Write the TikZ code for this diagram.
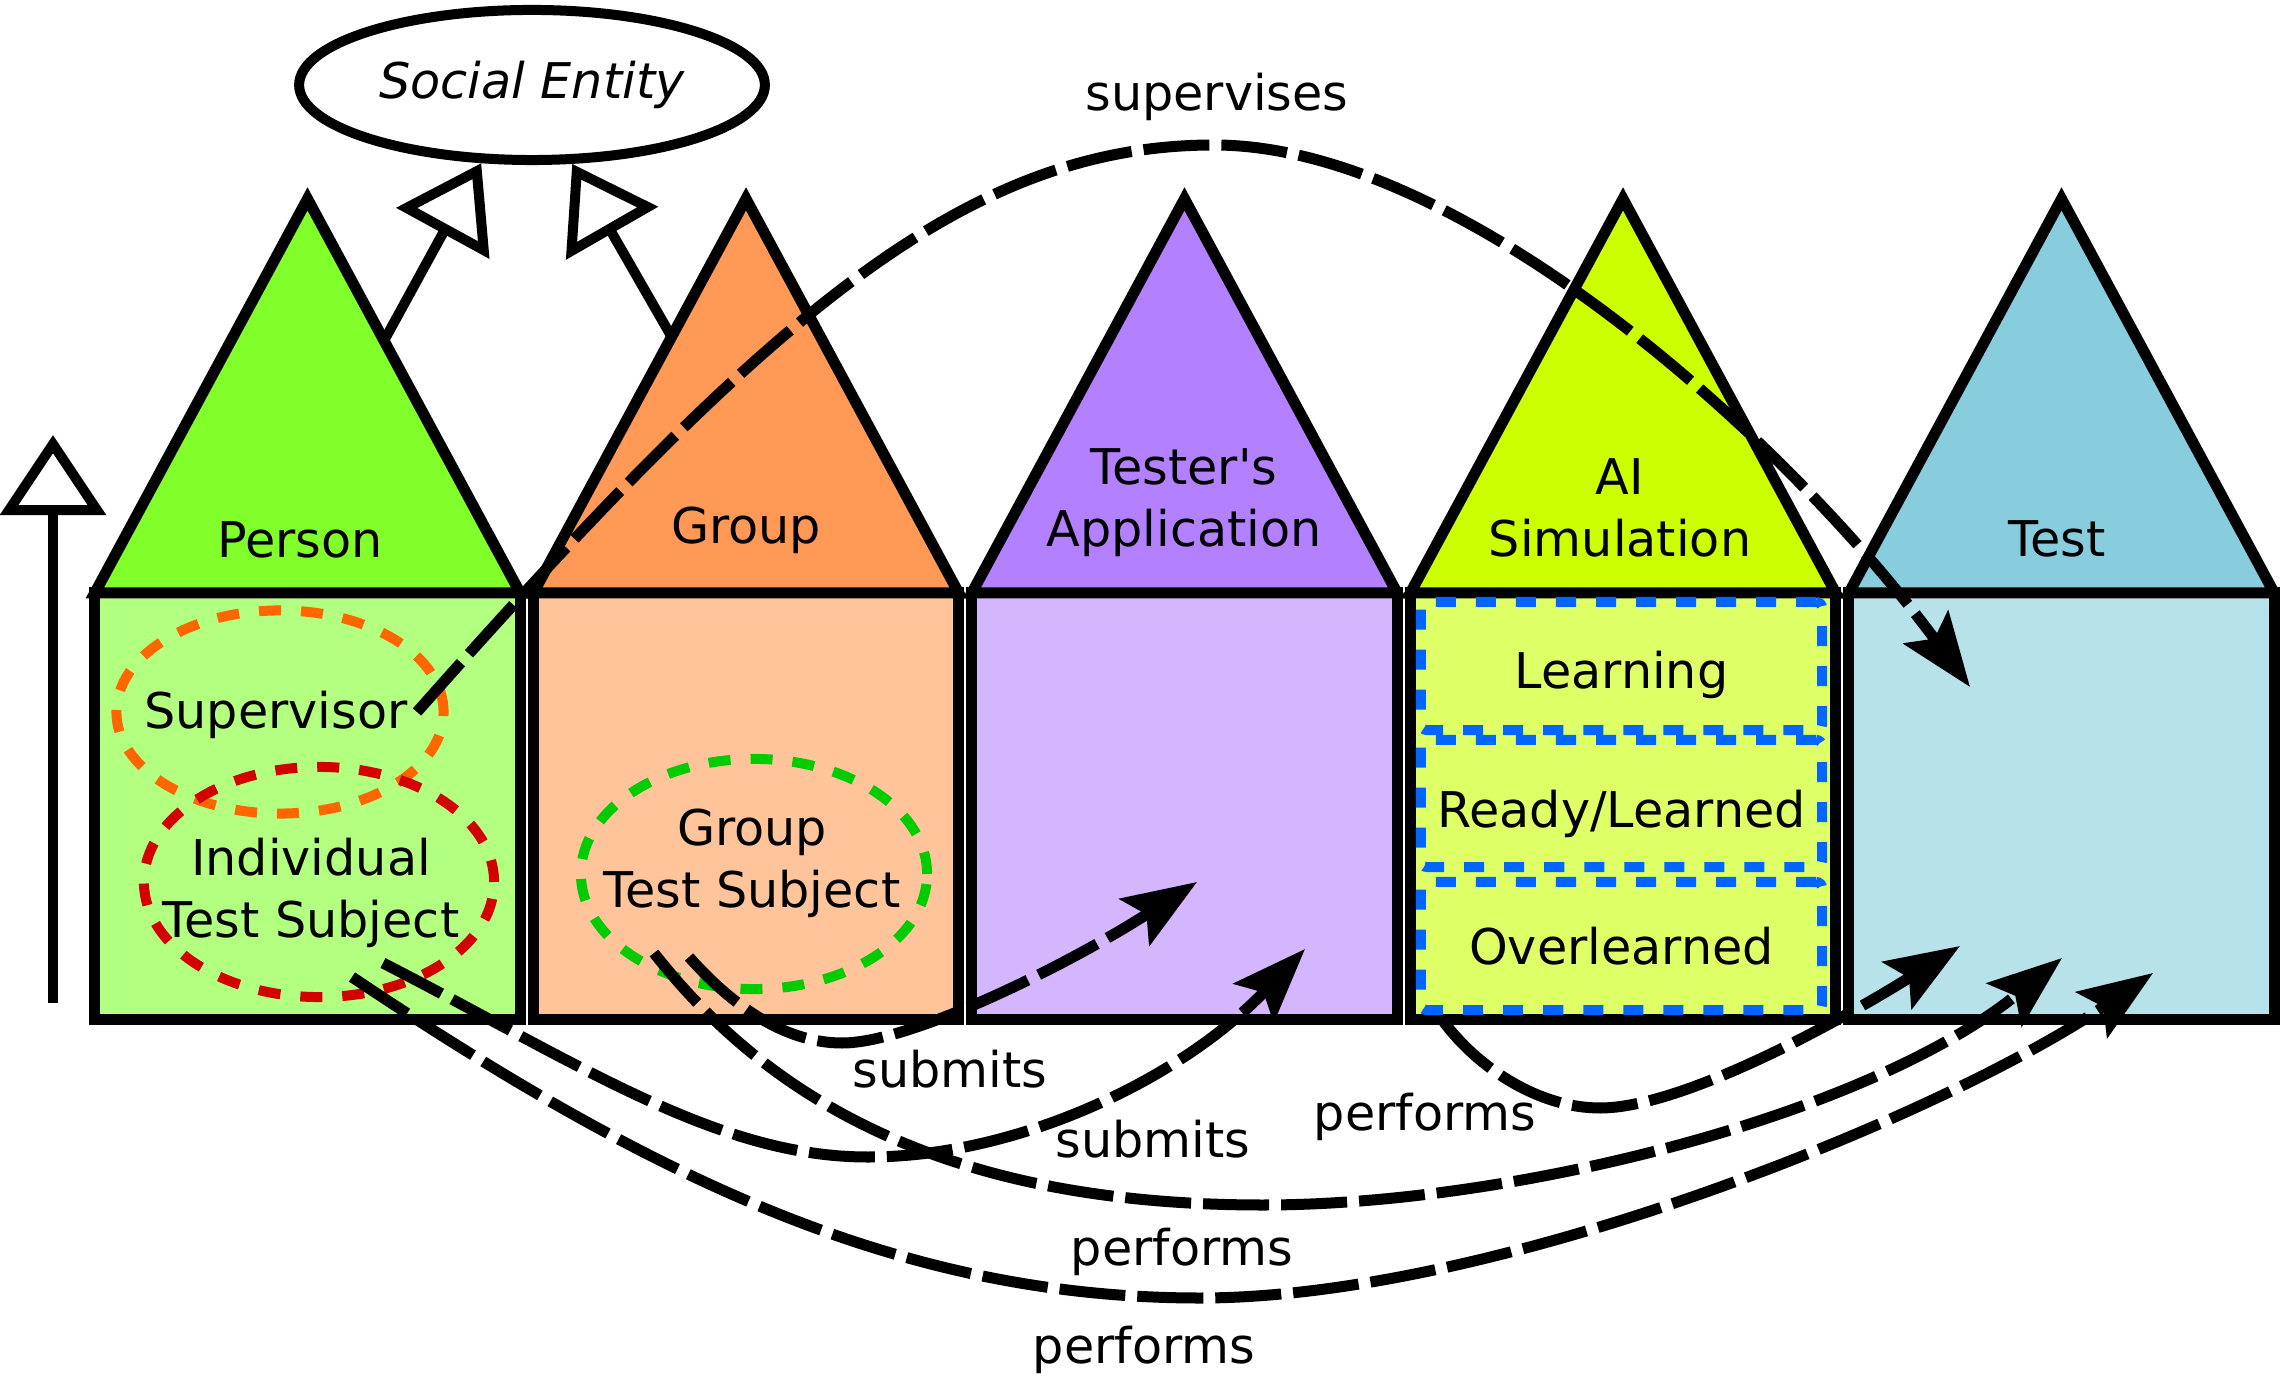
\documentclass[tikz,border=0pt]{standalone}
\usepackage{fontspec}
\setmainfont{DejaVu Sans}
\usetikzlibrary{arrows.meta,calc,shapes.geometric}

\definecolor{persontri}{HTML}{80FF2A}
\definecolor{personbox}{HTML}{B3FF80}
\definecolor{grouptri}{HTML}{FF9955}
\definecolor{groupbox}{HTML}{FFC49A}
\definecolor{apptri}{HTML}{B380FF}
\definecolor{appbox}{HTML}{D4B6FF}
\definecolor{aitri}{HTML}{CCFF00}
\definecolor{aibox}{HTML}{DFFF66}
\definecolor{testtri}{HTML}{87CDDE}
\definecolor{testbox}{HTML}{B7E2EA}
\definecolor{suporange}{HTML}{FF6600}
\definecolor{indred}{HTML}{D40000}
\definecolor{grpgreen}{HTML}{00CC00}
\definecolor{stateblue}{HTML}{0066FF}

\tikzset{
  house/.style={draw,line width=0.11cm,inner sep=0pt,outer sep=0pt,minimum width=4.25cm,minimum height=4.26cm},
  roof/.style={draw,line width=0.11cm,line join=miter},
  ring/.style={ellipse,line width=0.1cm,dash pattern=on 0.22cm off 0.2cm,inner sep=0pt},
  statebox/.style={draw=stateblue,line width=0.1cm,dash pattern=on 0.2cm off 0.2cm,rounded corners=0.06cm,minimum width=4.01cm,inner sep=0pt,text depth=0pt},
  isa/.style={line width=0.1cm,-{Triangle[open,length=0.8cm,width=1.04cm]}},
  rel/.style={line width=0.11cm,dash pattern=on 0.66cm off 0.12cm,-{Stealth[length=0.74cm,width=0.55cm,inset=0.14cm]}},
}

\begin{document}
\begin{tikzpicture}[x=0.01cm,y=-0.01cm,font=\fontsize{14}{17.6}\selectfont]
\useasboundingbox (0,0) rectangle (2280,1377);
% houses
\foreach \i/\nm/\tc/\bc in {0/person/persontri/personbox,1/group/grouptri/groupbox,2/app/apptri/appbox,3/aisim/aitri/aibox,4/test/testtri/testbox}
{
\node[house,fill=\bc] (\nm) at (307.5+438.5*\i,806) {};
\coordinate (\nm-top) at ($(\nm.north)+(0,-394)$);
\draw[roof,fill=\tc] (\nm.north west) -- (\nm-top) -- (\nm.north east) -- cycle;
}
\node (personname) at (300,540) {Person};
\node (groupname) at (746,530) {Group};
\node[align=center] (appname) at (1184,503) {Tester\textquotesingle s\\Application};
\node[align=center] (ainame) at (1620,508) {AI\\Simulation};
\node (testname) at (2057,539) {Test};

% generalisation
\node[ellipse,draw,line width=0.1cm,minimum width=4.58cm,minimum height=1.5cm] (social) at (532,85) {\textit{Social Entity}};
\draw[isa] ($(person-top)!0.36!(person.north east)$) -- (social.237);
\draw[isa] ($(group-top)!0.35!(group.north west)$) -- (social.297);
\coordinate (scalefoot) at (53,1003);
\coordinate (scalehead) at (53,435);
\draw[isa] (scalefoot) -- (scalehead);

% roles
\node[ring,draw=suporange,minimum width=3.27cm,minimum height=2.03cm] (supring) at (280,712) {};
\node[ring,draw=indred,minimum width=3.5cm,minimum height=2.3cm] (itsring) at (319,882) {};
\node[ring,draw=grpgreen,minimum width=3.46cm,minimum height=2.3cm] (gtsring) at (754,874) {};
\node (supervisor) at (276,715) {Supervisor};
\node[align=center] (its) at (311,893) {Individual\\Test Subject};
\node[align=center] (gts) at (752,863) {Group\\Test Subject};

% AI states
\node[statebox,minimum height=1.28cm,text height=0.44cm] (learning) at (1621.5,666) {Learning};
\node[statebox,minimum height=1.27cm,text height=0.48cm] (ready) at (1621.5,803.5) {Ready/Learned};
\node[statebox,minimum height=1.28cm] (overlearned) at (1621.5,946) {Overlearned};

% relations
\draw[rel] ($(supring.center)+(137,0)$) .. controls (767,317) and (964,145) .. (1214,145) .. controls (1464,145) and (1790,443) .. ($(test.center)+(-91.5,-119)$);
\draw[rel] ($(itsring.center)+(64,81)$) .. controls (583,1066) and (718,1157) .. (868,1157) .. controls (1018,1157) and (1181,1079) .. ($(app.center)+(120.5,143)$);
\draw[rel] ($(itsring.center)+(33,95)$) .. controls (652,1178) and (900,1298) .. (1200,1298) .. controls (1500,1298) and (1948,1113) .. ($(test.center)+(91.5,167)$);
\draw[rel] ($(gtsring.center)+(-65,83)$) .. controls (729,1002) and (782,1043) .. (842,1043) .. controls (912,1043) and (1071,963) .. ($(app.center)+(12.5,76)$);
\draw[rel] ($(gtsring.center)+(-100,79)$) .. controls (778,1111) and (963,1205) .. (1263,1205) .. controls (1513,1205) and (1867,1116) .. ($(test.center)+(0.5,152)$);
\draw[rel] ($(overlearned.south west)+(28,7)$) .. controls (1479,1069) and (1540,1108) .. (1600,1108) .. controls (1680,1108) and (1832,1026) .. ($(test.center)+(-101.5,140)$);

\node (supervises) at (1217,97) {supervises};
\node (submitsgrp) at (950,1069) {submits};
\node (submitsind) at (1153,1139) {submits};
\node (performsai) at (1425,1117) {performs};
\node (performsgrp) at (1182,1252) {performs};
\node (performsind) at (1144,1350) {performs};
\end{tikzpicture}
\end{document}
